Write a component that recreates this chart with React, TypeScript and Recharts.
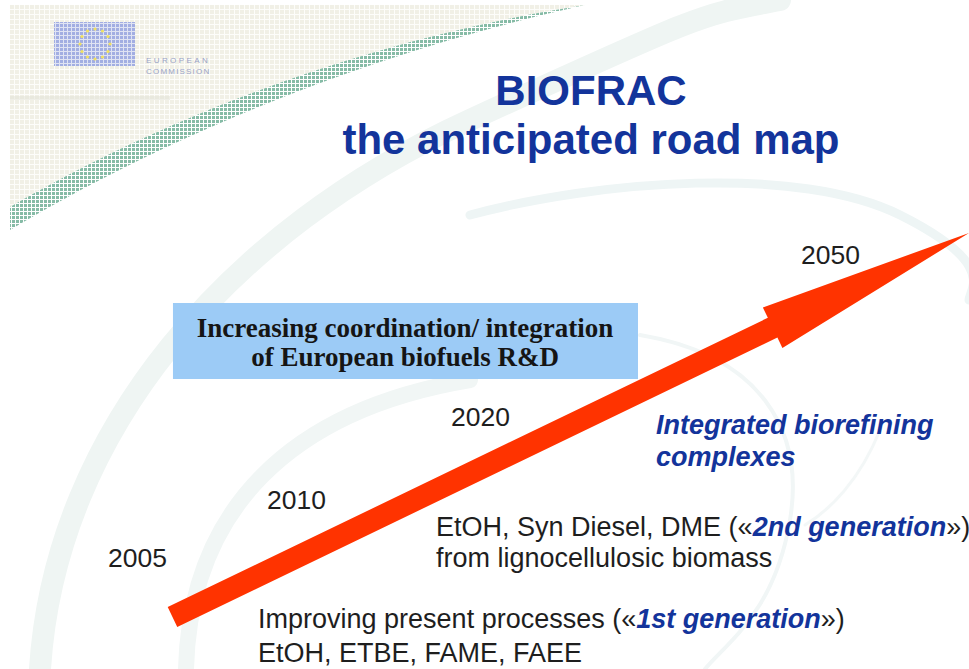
import { ComposedChart, XAxis, YAxis, Scatter, ReferenceArea } from "recharts";

// slide coordinates: x 0..100 left to right, y 0..100 bottom to top
const arrowX = [17.8, 100];
const arrowY = [7.77, 65.17];

const years = ["2005", "2010", "2020", "2050"];
const yearX = [11.15, 27.55, 46.54, 82.66];
const yearY = [15.25, 23.92, 36.32, 60.54];

const titleLines = ["BIOFRAC", "the anticipated road map"];
const titleX = [60.99, 60.99];
const titleY = [84.3, 76.98];

const boxX = [17.85, 65.84];
const boxY = [43.35, 54.71];
const boxLines = ["Increasing coordination/ integration", "of European biofuels R&D"];
const boxLineX = [41.8, 41.8];
const boxLineY = [49.63, 45.29];

const outlookLines = ["Integrated biorefining", "complexes"];
const outlookX = [67.7, 67.7];
const outlookY = [35.13, 30.34];

// odd segments are the emphasised (blue, bold italic) parts
const noteLines = [
    ["EtOH, Syn Diesel, DME («", "2nd generation", "»)"],
    ["from lignocellulosic biomass"],
    ["Improving present processes («", "1st generation", "»)"],
    ["EtOH, ETBE, FAME, FAEE"],
];
const noteX = [45.0, 45.0, 26.63, 26.63];
const noteY = [19.88, 15.25, 6.13, 1.05];

const W = 969;
const H = 669;
const SANS = "'Liberation Sans', Arial, sans-serif";
const SERIF = "'Liberation Serif', 'Times New Roman', serif";
const BLUE = "#13349b";
const INK = "#1e1e1e";

const arrowData = arrowX.map((x, i) => ({ x, y: arrowY[i] }));
const yearData = years.map((label, i) => ({ x: yearX[i], y: yearY[i], label }));
const titleData = titleLines.map((label, i) => ({ x: titleX[i], y: titleY[i], label }));
const boxData = boxLines.map((label, i) => ({ x: boxLineX[i], y: boxLineY[i], label }));
const outlookData = outlookLines.map((label, i) => ({ x: outlookX[i], y: outlookY[i], label }));
const noteData = noteLines.map((parts, i) => ({ x: noteX[i], y: noteY[i], parts }));

function Arrow({ points }: any) {
    if (!points || points.length < 2) return null;
    const [a, b] = points;
    const len = Math.hypot(b.x - a.x, b.y - a.y);
    const ux = (b.x - a.x) / len;
    const uy = (b.y - a.y) / len;
    const nx = -uy;
    const ny = ux;
    const shaft = 11;
    const head = 22.5;
    const headLen = 218;
    const bx = b.x - ux * headLen;
    const by = b.y - uy * headLen;
    const pts = [
        [a.x + nx * shaft, a.y + ny * shaft],
        [bx + nx * shaft, by + ny * shaft],
        [bx + nx * head, by + ny * head],
        [b.x, b.y],
        [bx - nx * head, by - ny * head],
        [bx - nx * shaft, by - ny * shaft],
        [a.x - nx * shaft, a.y - ny * shaft],
    ];
    return <polygon points={pts.map((p) => p.join(",")).join(" ")} fill="#ff3300" />;
}

const noDot = () => <g />;

const yearShape = (p: any) => (
    <text x={p.cx} y={p.cy} fontFamily={SANS} fontSize={26.5} fill={INK}>
        {p.payload.label}
    </text>
);

const titleShape = (p: any) => (
    <text x={p.cx} y={p.cy} textAnchor="middle" fontFamily={SANS} fontWeight="bold" fontSize={42} fill={BLUE}>
        {p.payload.label}
    </text>
);

const boxShape = (p: any) => (
    <text x={p.cx} y={p.cy} textAnchor="middle" fontFamily={SERIF} fontWeight="bold" fontSize={27} fill="#151515">
        {p.payload.label}
    </text>
);

const outlookShape = (p: any) => (
    <text x={p.cx} y={p.cy} fontFamily={SANS} fontWeight="bold" fontStyle="italic" fontSize={27} fill={BLUE}>
        {p.payload.label}
    </text>
);

const noteShape = (p: any) => (
    <text x={p.cx} y={p.cy} fontFamily={SANS} fontSize={27} fill={INK}>
        {p.payload.parts.map((t: string, i: number) =>
            i % 2 === 1 ? (
                <tspan key={i} fontWeight="bold" fontStyle="italic" fill={BLUE}>{t}</tspan>
            ) : (
                <tspan key={i}>{t}</tspan>
            )
        )}
    </text>
);

function Backdrop() {
    const stars = Array.from({ length: 12 }, (_, i) => {
        const a = (i / 12) * Math.PI * 2;
        return <circle key={i} cx={95 + Math.cos(a) * 15} cy={44 + Math.sin(a) * 15} r={1.6} fill="#f0e060" />;
    });
    return (
        <svg width={W} height={H} style={{ position: "absolute", left: 0, top: 0 }}>
            <defs>
                <pattern id="grid" width="5" height="5" patternUnits="userSpaceOnUse">
                    <rect width="5" height="5" fill="#fdfdfa" />
                    <rect width="4" height="4" fill="#f1f0e6" />
                </pattern>
                <pattern id="green" width="4" height="4" patternUnits="userSpaceOnUse">
                    <rect width="3" height="3" fill="#86bba6" />
                </pattern>
                <pattern id="eu" width="4" height="4" patternUnits="userSpaceOnUse">
                    <rect width="4" height="4" fill="#dfe3f3" />
                    <rect width="3" height="3" fill="#a2aee2" />
                </pattern>
            </defs>
            <rect width={W} height={H} fill="#ffffff" />
            <g fill="none" strokeLinecap="round">
                <path d="M 40 669 C 55 430, 230 230, 470 120 S 700 15, 780 0" stroke="#eff5f3" strokeWidth={22} />
                <path d="M 186 669 C 190 510, 290 410, 470 380" stroke="#f1f6f5" strokeWidth={16} />
                <path d="M 470 215 C 600 180, 800 165, 900 215 S 969 290, 969 300" stroke="#eef5f5" strokeWidth={9} />
                <path d="M 640 335 C 760 355, 805 430, 790 520 S 730 640, 705 669" stroke="#f1f6f6" strokeWidth={4} />
                <path d="M 880 430 C 860 480, 830 510, 805 525" stroke="#f3f7f7" strokeWidth={3} />
            </g>
            <path d="M 10 5 L 585 5 C 360 40, 160 120, 10 207 Z" fill="url(#grid)" />
            <path d="M 10 207 C 160 120, 360 40, 585 5 C 360 55, 160 140, 10 230 Z" fill="url(#green)" />
            <rect x={10} y={96} width={160} height={4} fill="#e2e1d6" opacity={0.5} />
            <rect x={54} y={22} width={81} height={44} fill="url(#eu)" />
            {stars}
            <text x={146} y={63} fontFamily={SANS} fontSize={8} letterSpacing={2.4} fill="#9aa3c6">EUROPEAN</text>
            <text x={146} y={74} fontFamily={SANS} fontSize={8} letterSpacing={1.2} fill="#9aa3c6">COMMISSION</text>
        </svg>
    );
}

export default function App() {
    return (
        <div style={{ position: "absolute", left: 0, top: 0, width: W, height: H, overflow: "hidden" }}>
            <Backdrop />
            <div style={{ position: "absolute", left: 0, top: 0 }}>
                <ComposedChart width={W} height={H} margin={{ top: 0, right: 0, bottom: 0, left: 0 }}>
                    <XAxis type="number" dataKey="x" domain={[0, 100]} allowDataOverflow hide />
                    <YAxis type="number" dataKey="y" domain={[0, 100]} allowDataOverflow hide />
                    <ReferenceArea x1={boxX[0]} x2={boxX[1]} y1={boxY[0]} y2={boxY[1]} fill="#9ccbf6" fillOpacity={1} stroke="none" />
                    <Scatter data={boxData} shape={boxShape} isAnimationActive={false} />
                    <Scatter data={titleData} shape={titleShape} isAnimationActive={false} />
                    <Scatter data={yearData} shape={yearShape} isAnimationActive={false} />
                    <Scatter data={outlookData} shape={outlookShape} isAnimationActive={false} />
                    <Scatter data={noteData} shape={noteShape} isAnimationActive={false} />
                    <Scatter
                        data={arrowData}
                        shape={noDot}
                        line={(p: any) => <Arrow points={p.points} />}
                        lineType="joint"
                        isAnimationActive={false}
                    />
                </ComposedChart>
            </div>
        </div>
    );
}
